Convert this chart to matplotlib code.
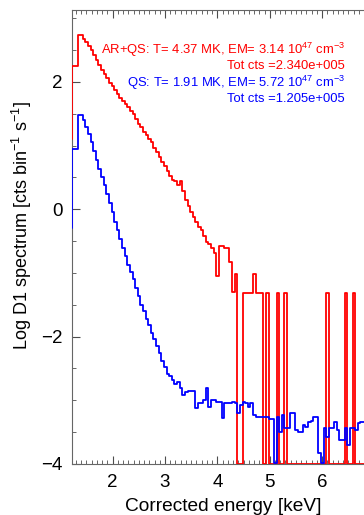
import numpy as np
import matplotlib
matplotlib.use("Agg")
import matplotlib.pyplot as plt
from matplotlib.ticker import MultipleLocator

plt.rcParams['font.family'] = ['Liberation Sans', 'DejaVu Sans']
plt.rcParams['mathtext.fontset'] = 'custom'
plt.rcParams['mathtext.rm'] = 'Liberation Sans'
plt.rcParams['mathtext.it'] = 'Liberation Sans'

# energy bins (keV), width 0.05, left edges start at 1.18
bin_start = 1.18
bin_width = 0.05

# log spectrum per bin; empty bins sit on the plot floor (-4)
ar_qs = [1.10, 2.25, 2.25, 2.74, 2.74, 2.68, 2.62, 2.56, 2.50, 2.43,
         2.35, 2.27, 2.19, 2.12, 2.06, 1.98, 1.93, 1.88, 1.81, 1.75,
         1.70, 1.65, 1.60, 1.54, 1.49, 1.42, 1.34, 1.29, 1.22, 1.17,
         1.10, 1.05, 0.97, 0.90, 0.82, 0.75, 0.68, 0.60, 0.52, 0.46,
         0.44, 0.38, 0.45, 0.28, 0.14, 0.05, -0.05, -0.12, -0.20, -0.28,
         -0.32, -0.42, -0.52, -0.55, -0.60, -0.68, -1.05, -0.57, -0.57, -0.60,
         -0.60, -0.83, -1.30, -1.02, -4.0, -4.0, -1.32, -1.32, -1.32, -1.32,
         -1.02, -1.32, -1.32, -1.32, -4.0, -1.32, -4.0, -4.0, -4.0, -1.32,
         -4.0, -4.0, -1.32, -4.0, -4.0, -4.0, -4.0, -4.0, -4.0, -4.0,
         -4.0, -4.0, -4.0, -4.0, -4.0, -4.0, -4.0, -4.0, -1.32, -4.0,
         -4.0, -4.0, -4.0, -4.0, -4.0, -1.32, -4.0, -4.0, -1.32, -4.0,
         -4.0, -4.0, -4.0, -4.0]

qs = [-0.30, 0.94, 0.94, 1.48, 1.48, 1.40, 1.30, 1.18, 1.05, 0.92,
      0.78, 0.64, 0.50, 0.38, 0.24, 0.10, -0.04, -0.20, -0.32, -0.46,
      -0.60, -0.74, -0.87, -0.98, -1.10, -1.24, -1.36, -1.50, -1.60, -1.72,
      -1.82, -1.94, -2.04, -2.15, -2.26, -2.38, -2.48, -2.58, -2.62, -2.68,
      -2.74, -2.72, -2.80, -2.92, -2.87, -2.85, -2.85, -2.85, -3.12, -3.04,
      -3.04, -3.00, -2.80, -3.10, -3.00, -3.00, -3.02, -3.02, -3.28, -3.04,
      -3.04, -3.04, -3.02, -3.04, -3.20, -3.07, -3.02, -3.04, -3.10, -3.04,
      -3.23, -3.26, -3.26, -3.26, -3.26, -3.26, -3.30, -3.30, -3.98, -3.26,
      -3.50, -3.23, -3.43, -3.43, -3.20, -3.20, -3.46, -3.50, -3.50, -3.39,
      -3.42, -3.34, -3.32, -3.26, -3.26, -3.83, -3.98, -3.43, -3.57, -3.43,
      -3.43, -3.34, -3.46, -3.62, -3.62, -3.43, -3.70, -3.43, -3.43, -3.46,
      -3.35, -3.34, -3.34, -3.34]

label_arqs = ["AR+QS: T= 4.37 MK, EM= 3.14 10$^{47}$ cm$^{-3}$", "Tot cts =2.340e+005"]
label_qs = ["QS: T= 1.91 MK, EM= 5.72 10$^{47}$ cm$^{-3}$", "Tot cts =1.205e+005"]

energy = bin_start + bin_width * np.arange(len(qs))

fig = plt.figure(figsize=(3.64, 5.15), dpi=100)
ax = fig.add_axes([72 / 364, 51 / 515, 302 / 364, 454 / 515])

ax.step(energy, ar_qs, where='post', color='red', lw=1.3, zorder=3)
ax.step(energy, qs, where='post', color='blue', lw=1.3, zorder=3)

ax.set_xlim(1.225, 6.99)
ax.set_ylim(-4, 3.13)
ax.xaxis.set_major_locator(MultipleLocator(1))
ax.xaxis.set_minor_locator(MultipleLocator(0.1))
ax.yaxis.set_major_locator(MultipleLocator(2))
ax.yaxis.set_minor_locator(MultipleLocator(0.5))
ax.tick_params(which='both', direction='in', top=True, right=False, labelsize=13.5, color='0.3')
ax.tick_params(which='major', length=6, width=0.8, pad=7)
ax.tick_params(which='minor', length=3, width=0.6)
ax.spines['right'].set_visible(False)
for s in ['left', 'bottom', 'top']:
    ax.spines[s].set_color('0.4')
    ax.spines[s].set_linewidth(0.8)

ax.set_xlabel("Corrected energy [keV]", fontsize=13.8, labelpad=5)
ax.set_ylabel("Log D1 spectrum [cts bin$^{-1}$ s$^{-1}$]", fontsize=13)
ax.yaxis.set_label_coords(-0.125, 0.526)

fig.text(345 / 364, 1 - 50 / 515, label_arqs[0], color='red', fontsize=9.4, ha='right', va='center')
fig.text(345 / 364, 1 - 66 / 515, label_arqs[1], color='red', fontsize=9.4, ha='right', va='center')
fig.text(345 / 364, 1 - 83 / 515, label_qs[0], color='blue', fontsize=9.4, ha='right', va='center')
fig.text(345 / 364, 1 - 99 / 515, label_qs[1], color='blue', fontsize=9.4, ha='right', va='center')

fig.savefig("out.png", dpi=100)
